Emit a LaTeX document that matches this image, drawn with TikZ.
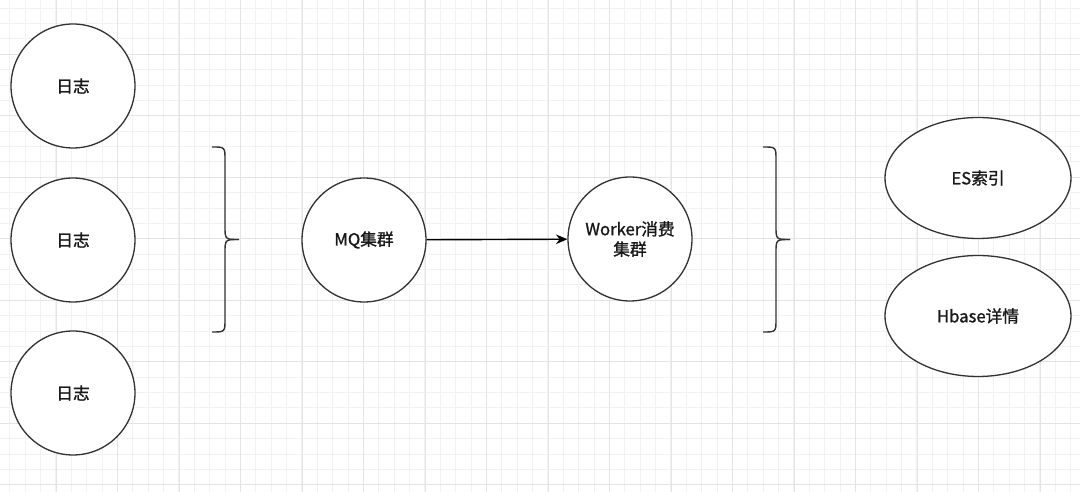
\documentclass[tikz,border=0pt]{standalone}
\usepackage{fontspec}
\setmainfont{Noto Sans CJK SC}[BoldFont=Noto Sans CJK SC, BoldFeatures={FakeBold=1.2}]
\usetikzlibrary{arrows.meta,shapes.geometric}
\definecolor{linegray}{HTML}{333333}
\definecolor{minorgray}{HTML}{F2F2F2}
\definecolor{majorgray}{HTML}{E4E4E4}
\begin{document}
\begin{tikzpicture}[x=0.02cm, y=-0.02cm, line width=0.75pt,
	every node/.style={font=\fontsize{9.5}{11.5}\selectfont\bfseries, text=black!90},
	bubble/.style={circle, draw=linegray, fill=white, minimum size=2.48cm, inner sep=0pt, align=center},
	oval/.style={ellipse, draw=linegray, fill=white, minimum width=3.72cm, minimum height=2.42cm, inner sep=0pt},
	bracket/.style={draw=linegray, line width=0.8pt}]
			\useasboundingbox[fill=white] (0,0) rectangle (1080,492);
			% grid background
			\foreach \i in {0,...,70} { \draw[minorgray, line width=0.5pt] ({9.8+15.375*\i},0) -- ++(0,492); }
			\foreach \j in {0,...,31} { \draw[minorgray, line width=0.5pt] (0,{8.1+15.375*\j}) -- ++(1080,0); }
			\foreach \i in {0,...,16} { \draw[majorgray, line width=0.5pt] ({56+61.5*\i},0) -- ++(0,492); }
			\foreach \j in {0,...,7} { \draw[majorgray, line width=0.5pt] (0,{54.3+61.5*\j}) -- ++(1080,0); }
			% nodes
			\node[bubble] (log1) at (73,86) {日志};
			\node[bubble] (log2) at (73,240) {日志};
			\node[bubble] (log3) at (73,393) {日志};
			\node[bubble] (mq) at (364,240) {MQ集群};
			\node[bubble] (worker) at (630,239) {Worker消费\\集群};
			\node[oval] (es) at (978,178) {ES索引};
			\node[oval] (hbase) at (978,316) {Hbase详情};
			% brackets
			\foreach \bx in {212,763} {
				\draw[bracket] (\bx,147) .. controls (\bx+13,147) .. (\bx+13,160) -- (\bx+13,226) .. controls (\bx+13,239.5) .. (\bx+27,239.5);
				\draw[bracket] (\bx+27,239.5) .. controls (\bx+13,239.5) .. (\bx+13,253) -- (\bx+13,319) .. controls (\bx+13,332) .. (\bx,332);
			}
			\draw[-{Stealth[length=6.5pt, width=5.5pt]}, draw=black, line width=0.8pt] (mq) -- (worker);
		\end{tikzpicture}
\end{document}
